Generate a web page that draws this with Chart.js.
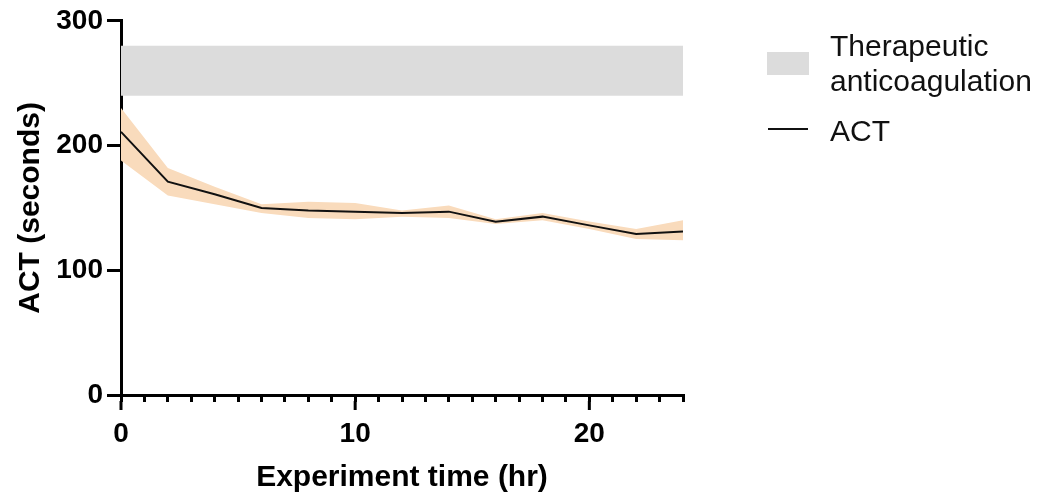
<!DOCTYPE html>
<html>
<head>
<meta charset="utf-8">
<script src="https://cdn.jsdelivr.net/npm/chart.js@4/dist/chart.umd.min.js"></script>
<style>
  body { margin: 0; background: #fff; }
  #wrap { position: relative; width: 1050px; height: 500px; }
  .legend { position: absolute; font-family: Arial, 'Liberation Sans', sans-serif; font-size: 30px; color: #111; line-height: 35px; }
  .swatch { position: absolute; }
</style>
</head>
<body>
<div id="wrap">
  <canvas id="grafico" width="1050" height="500"></canvas>
  <!-- leyenda a mano, a la derecha -->
  <div class="swatch" style="left:767px; top:52px; width:42px; height:23px; background:#dcdcdc;"></div>
  <div class="legend" style="left:830px; top:28px;">Therapeutic<br>anticoagulation</div>
  <div class="swatch" style="left:768px; top:128px; width:40px; height:2px; background:#111;"></div>
  <div class="legend" style="left:830px; top:113px;">ACT</div>
</div>
<script>
// datos
const hours = [0, 2, 4, 6, 8, 10, 12, 14, 16, 18, 20, 22, 24];
const actMean = [211, 171, 161, 150, 148, 147, 146, 147, 139, 143, 136, 129, 131];
const actUpper = [230, 182, 167, 153, 155, 154, 148, 152, 141, 146, 139, 133, 140];
const actLower = [188, 160, 153, 146, 142, 141, 143, 142, 137, 140, 133, 125, 124];
const therapeuticRange = [240, 280];
const yTicks = [0, 100, 200, 300];
const xMajor = [0, 10, 20];

const pts = (ys) => hours.map((h, i) => ({ x: h, y: ys[i] }));
const xEnds = [hours[0], hours[hours.length - 1]];

const FONT = "Arial, 'Liberation Sans', sans-serif";

// alarga las marcas principales del eje x
const majorTicks = {
  id: 'majorTicks',
  afterDraw(chart) {
    const sx = chart.scales.x;
    const c = chart.ctx;
    c.save();
    c.strokeStyle = '#000';
    c.lineWidth = 3;
    xMajor.forEach(v => {
      const px = sx.getPixelForValue(v);
      c.beginPath();
      c.moveTo(px, sx.top + 6);
      c.lineTo(px, sx.top + 15);
      c.stroke();
    });
    c.restore();
  }
};

new Chart(document.getElementById('grafico'), {
  type: 'line',
  data: {
    datasets: [
      {
        label: 'ACT',
        data: pts(actMean),
        borderColor: '#111',
        borderWidth: 2,
        pointRadius: 0,
        tension: 0,
        fill: false
      },
      {
        label: 'lower',
        data: pts(actLower),
        borderWidth: 0,
        pointRadius: 0,
        fill: false
      },
      {
        label: 'upper',
        data: pts(actUpper),
        borderWidth: 0,
        pointRadius: 0,
        backgroundColor: '#f9dbbc',
        fill: '-1'
      },
      {
        label: 'rangeLow',
        data: xEnds.map(x => ({ x: x, y: therapeuticRange[0] })),
        borderWidth: 0,
        pointRadius: 0,
        fill: false
      },
      {
        label: 'Therapeutic anticoagulation',
        data: xEnds.map(x => ({ x: x, y: therapeuticRange[1] })),
        borderWidth: 0,
        pointRadius: 0,
        backgroundColor: '#dcdcdc',
        fill: '-1'
      }
    ]
  },
  options: {
    responsive: false,
    animation: false,
    layout: { padding: { top: 20, right: 367, left: 0, bottom: 0 } },
    plugins: {
      legend: { display: false },
      tooltip: { enabled: false }
    },
    scales: {
      x: {
        type: 'linear',
        min: 0,
        max: 24,
        afterFit: (s) => { s.height = 105; },
        ticks: {
          stepSize: 1,
          autoSkip: false,
          maxRotation: 0,
          padding: 15,
          color: '#000',
          font: { family: FONT, size: 28, weight: 'bold' },
          callback: (v) => (xMajor.includes(v) ? v : '')
        },
        grid: { drawOnChartArea: false, tickLength: 7, lineWidth: 3, color: '#000' },
        border: { color: '#000', width: 3 },
        title: {
          display: true,
          text: 'Experiment time (hr)',
          color: '#000',
          font: { family: FONT, size: 30, weight: 'bold' },
          padding: { top: 0, bottom: 4 }
        }
      },
      y: {
        min: 0,
        max: 300,
        afterFit: (s) => { s.width = 121; },
        afterBuildTicks: (s) => { s.ticks = yTicks.map(v => ({ value: v })); },
        ticks: {
          padding: 4,
          color: '#000',
          font: { family: FONT, size: 28, weight: 'bold' }
        },
        grid: { drawOnChartArea: false, tickLength: 14, lineWidth: 3, color: '#000' },
        border: { color: '#000', width: 3 },
        title: {
          display: true,
          text: 'ACT (seconds)',
          color: '#000',
          font: { family: FONT, size: 30, weight: 'bold' },
          padding: { top: 13, bottom: 0 }
        }
      }
    }
  },
  plugins: [majorTicks]
});
</script>
</body>
</html>
